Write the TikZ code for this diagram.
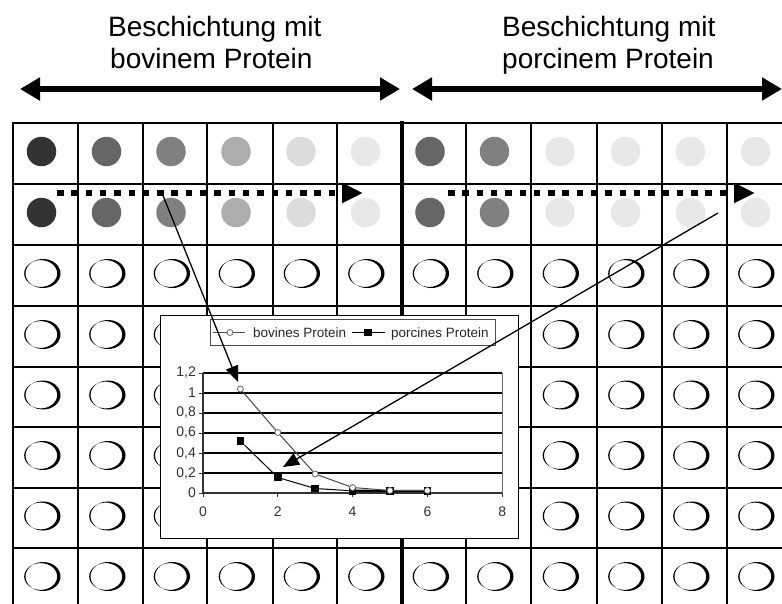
\documentclass[tikz,border=0pt]{standalone}
\usepackage{fontspec}
\setmainfont{Liberation Sans}
\usetikzlibrary{arrows.meta}
\definecolor{cA}{HTML}{333333}
\definecolor{cB}{HTML}{666666}
\definecolor{cC}{HTML}{808080}
\definecolor{cD}{HTML}{ADADAD}
\definecolor{cE}{HTML}{DCDCDC}
\definecolor{cF}{HTML}{E8E8E8}
\begin{document}
\begin{tikzpicture}[x=1pt,y=-1pt,
  gridline/.style={line width=2.5pt},
  divider/.style={line width=4.5pt},
  titletext/.style={font=\fontsize{28}{31.5}\selectfont, anchor=base west, inner sep=0pt},
  bigarrow/.style={line width=5.5pt, {Triangle[length=20pt,width=22pt]}-{Triangle[length=20pt,width=22pt]}},
  dotarrow/.style={line width=6.5pt, dash pattern=on 6.5pt off 7.8pt, -{Triangle[length=21pt,width=19pt]}},
  fillcirc/.style={circle, inner sep=0pt, minimum size=29.5pt, draw=none},
  thinarrow/.style={line width=1.3pt, -{Triangle[length=16pt,width=13pt]}},
  ticklab/.style={font=\fontsize{14}{16}\selectfont, text=black!80, inner sep=0pt},
  legtext/.style={font=\fontsize{13.5}{15}\selectfont, text=black!85, inner sep=0pt, anchor=base west},
  bovmark/.style={circle, draw=black!60, fill=white, line width=0.8pt, inner sep=0pt, minimum size=6pt},
  pormark/.style={rectangle, fill=black, inner sep=0pt, minimum size=7.5pt},
]
\useasboundingbox (0,0) rectangle (782,603);
\fill[white] (0,0) rectangle (782,603);

% titles
\node[titletext] (t1a) at (108,36.7) {Beschichtung mit};
\node[titletext] (t1b) at (110,68) {bovinem Protein};
\node[titletext] (t2a) at (502,36.7) {Beschichtung mit};
\node[titletext] (t2b) at (502,68) {porcinem Protein};

% top arrows
\coordinate (L1) at (20,89);
\coordinate (L2) at (400,89);
\coordinate (R1) at (412,89);
\coordinate (R2) at (782,89);
\draw[bigarrow] (L1) -- (L2);
\draw[bigarrow] (R1) -- (R2);

\begin{scope}
\clip (0,0) rectangle (782,603);
% grid
\foreach \x in {13,78,143,207,273,337,466,531,597,662,727,792}
  \draw[gridline] (\x,123) -- (\x,612);
\foreach \y in {123,184,245,306,367,427,488,548,609}
  \draw[gridline] (12,\y) -- (795,\y);
\draw[divider] (402,121) -- (402,612);

% filled circles
\foreach \cx/\col [count=\i] in {45.5/cA,110.5/cB,175/cC,240/cD,305/cE,369.5/cF,434/cB,498.5/cC,564/cF,629.5/cF,694.5/cF,759.5/cF}{
  \node[fillcirc, fill=\col] (f1-\i) at (\cx-4,151.5) {};
  \node[fillcirc, fill=\col] (f2-\i) at (\cx-4,212.5) {};
}
% open wells
\foreach \cx in {45.5,110.5,175,240,305,369.5,434,498.5,564,629.5,694.5,759.5}{
  \foreach \cy in {275.5,336.5,397,457.5,518,578.5}{
    \fill[black, even odd rule] (\cx-2.5,\cy-2) ellipse [x radius=17.5pt, y radius=14.5pt]
      (\cx-4.8,\cy-2) ellipse [x radius=16.5pt, y radius=13.4pt];
  }
}

% dotted arrows
\coordinate (D1s) at (57,193);
\coordinate (D1e) at (363,193);
\coordinate (D2s) at (448,193);
\coordinate (D2e) at (755,193);
\draw[dotarrow] (D1s) -- (D1e);
\draw[dotarrow] (D2s) -- (D2e);
\end{scope}

% chart box
\node[draw=black, line width=1pt, fill=white, minimum width=358pt, minimum height=223pt, inner sep=0pt] (chart) at (339,426.5) {};

% legend
\node[draw=black!70, line width=1pt, minimum width=285pt, minimum height=26pt, inner sep=0pt] (legend) at (352.5,332) {};
\coordinate (lg1a) at (213,332.5);
\coordinate (lg1b) at (245,332.5);
\draw[black!70, line width=1pt] (lg1a) -- (lg1b);
\node[bovmark] (lgm1) at (230,332.5) {};
\node[legtext] (lgt1) at (253,337.3) {bovines Protein};
\coordinate (lg2a) at (352,332.5);
\coordinate (lg2b) at (385,332.5);
\draw[black, line width=1pt] (lg2a) -- (lg2b);
\node[pormark] (lgm2) at (368,332.5) {};
\node[legtext] (lgt2) at (391,337.3) {porcines Protein};

% plot
\begin{scope}[shift={(203,493)}, x=37.4pt, y=100pt]
  \foreach \v in {0.2,0.4,0.6,0.8,1.0,1.2}
    \draw[black, line width=1.2pt] (0,\v) -- (8,\v);
  \draw[black!55, line width=0.8pt] (8,0) -- (8,1.2);
  \draw[black!80, line width=1.2pt] (0,0) -- (8,0);
  \draw[black!80, line width=1.2pt] (0,0) -- (0,1.2);
  \foreach \v/\lab in {0/0,0.2/{0,2},0.4/{0,4},0.6/{0,6},0.8/{0,8},1.0/1,1.2/{1,2}}{
    \draw[black!80, line width=1pt] (0,\v) -- ++(-4pt,0);
    \node[ticklab, anchor=east] (yl-\v) at ([xshift=-7pt]0,\v) {\lab};
  }
  \foreach \u in {0,2,4,6,8}{
    \draw[black!80, line width=1pt] (\u,0) -- ++(0,-4pt);
    \node[ticklab] (xl-\u) at ([yshift=-19pt]\u,0) {\u};
  }
  % porcine
  \node[pormark] (p1) at (1,0.52) {};
  \node[pormark] (p2) at (2,0.155) {};
  \node[pormark] (p3) at (3,0.045) {};
  \node[pormark] (p4) at (4,0.022) {};
  \node[pormark] (p5) at (5,0.02) {};
  \node[pormark] (p6) at (6,0.02) {};
  \draw[black, line width=1pt] (p1) -- (p2) -- (p3) -- (p4) -- (p5) -- (p6);
  \draw[black, line width=2.2pt] (p4.center) -- (p6.center);
  % bovine
  \node[bovmark] (b1) at (1,1.04) {};
  \node[bovmark] (b2) at (2,0.605) {};
  \node[bovmark] (b3) at (3,0.19) {};
  \node[bovmark] (b4) at (4,0.055) {};
  \node[bovmark] (b5) at (5,0.025) {};
  \node[bovmark] (b6) at (6,0.025) {};
  \draw[black!72, line width=1pt] (b1) -- (b2) -- (b3) -- (b4) -- (b5) -- (b6);
\end{scope}

% pointer arrows
\coordinate (A1s) at (162,193);
\coordinate (A1e) at (238,382);
\coordinate (A2s) at (718,213);
\coordinate (A2e) at (283,467);
\draw[thinarrow] (A1s) -- (A1e);
\draw[thinarrow] (A2s) -- (A2e);
\end{tikzpicture}
\end{document}
